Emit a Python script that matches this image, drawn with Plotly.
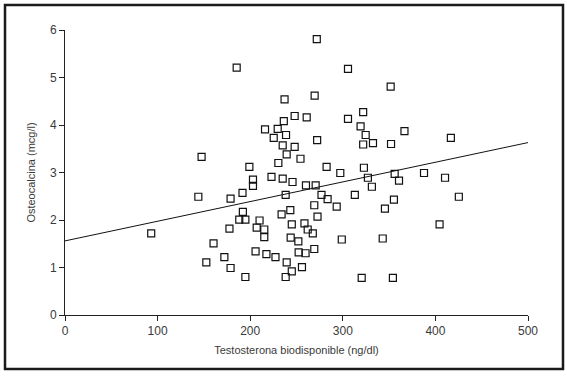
import plotly.graph_objects as go

testosterona = [271.9, 185.4, 305.6, 351.7, 269.6, 237.1, 322.0, 248.0, 261.0, 305.6,
                236.3, 216.0, 229.7, 319.2, 366.6, 225.4, 238.7, 324.7, 416.7, 272.3,
                235.1, 322.0, 332.6, 352.1, 248.0, 147.5, 239.4, 254.3, 230.4, 199.1,
                282.5, 322.8, 297.3, 387.7, 356.0, 223.0, 203.0, 235.1, 410.4, 327.1,
                245.7, 360.7, 203.0, 260.2, 270.7, 331.4, 191.7, 238.3, 277.0, 313.0,
                144.0, 178.8, 283.6, 425.3, 355.2, 269.2, 293.4, 345.5, 243.3, 192.1,
                233.9, 272.7, 188.2, 194.8, 210.1, 244.9, 258.6, 404.5, 207.0, 177.6,
                215.2, 262.1, 93.1, 267.6, 215.2, 243.7, 343.1, 298.9, 252.0, 160.4,
                269.2, 205.8, 252.3, 259.8, 217.5, 172.1, 227.3, 152.6, 239.4, 255.9,
                178.8, 244.9, 194.8, 238.3, 320.4, 354.1]
osteocalcina = [5.81, 5.21, 5.18, 4.81, 4.62, 4.54, 4.27, 4.19, 4.16, 4.13,
                4.08, 3.91, 3.92, 3.97, 3.87, 3.73, 3.79, 3.79, 3.73, 3.68,
                3.57, 3.59, 3.62, 3.60, 3.54, 3.33, 3.38, 3.29, 3.20, 3.12,
                3.12, 3.10, 2.99, 2.99, 2.97, 2.91, 2.85, 2.87, 2.89, 2.89,
                2.80, 2.83, 2.72, 2.73, 2.73, 2.70, 2.57, 2.53, 2.53, 2.53,
                2.49, 2.45, 2.44, 2.49, 2.43, 2.31, 2.28, 2.24, 2.21, 2.17,
                2.12, 2.07, 2.01, 2.01, 1.99, 1.91, 1.93, 1.91, 1.84, 1.82,
                1.80, 1.80, 1.72, 1.72, 1.64, 1.63, 1.61, 1.59, 1.55, 1.51,
                1.39, 1.34, 1.32, 1.30, 1.28, 1.22, 1.22, 1.11, 1.11, 1.01,
                0.99, 0.92, 0.80, 0.80, 0.78, 0.78]

trend_x = [0, 500]
trend_y = [1.56, 3.63]

x_ticks = [0, 100, 200, 300, 400, 500]
y_ticks = [0, 1, 2, 3, 4, 5, 6]

fig = go.Figure()
fig.add_trace(go.Scatter(
    x=trend_x, y=trend_y, mode="lines",
    line=dict(color="#111111", width=1), showlegend=False, hoverinfo="skip"))
fig.add_trace(go.Scatter(
    x=testosterona, y=osteocalcina, mode="markers",
    marker=dict(symbol="square-open", size=7, color="#111111",
                line=dict(color="#111111", width=1.2)),
    showlegend=False))

font_family = "Liberation Sans, Arial, sans-serif"
axis_common = dict(
    showgrid=False, zeroline=False, showline=True, linecolor="#222222", linewidth=1,
    ticks="outside", ticklen=5, tickwidth=1, tickcolor="#222222",
    tickfont=dict(family=font_family, size=12, color="#3a3a3a"),
)

fig.update_layout(
    width=567, height=376,
    margin=dict(l=65, r=39, t=30, b=61),
    paper_bgcolor="white", plot_bgcolor="white",
    xaxis=dict(range=[0, 500], tickvals=x_ticks, **axis_common,
               title=dict(text="Testosterona biodisponible (ng/dl)", standoff=8,
                          font=dict(family=font_family, size=11, color="#3a3a3a"))),
    yaxis=dict(range=[0, 6], tickvals=y_ticks, **axis_common,
               title=dict(text="Osteocalcina (mcg/l)", standoff=12,
                          font=dict(family=font_family, size=11, color="#3a3a3a"))),
    shapes=[dict(type="rect", xref="paper", yref="paper",
                 x0=(5 - 65) / 463, x1=(563 - 65) / 463,
                 y0=(315 - 369) / 285, y1=(315 - 5) / 285,
                 line=dict(color="#1a1a1a", width=2.5), fillcolor="rgba(0,0,0,0)",
                 layer="below")],
)

fig.write_html("out.html", config={"displayModeBar": False},
               post_script="document.body.style.margin='0';")
